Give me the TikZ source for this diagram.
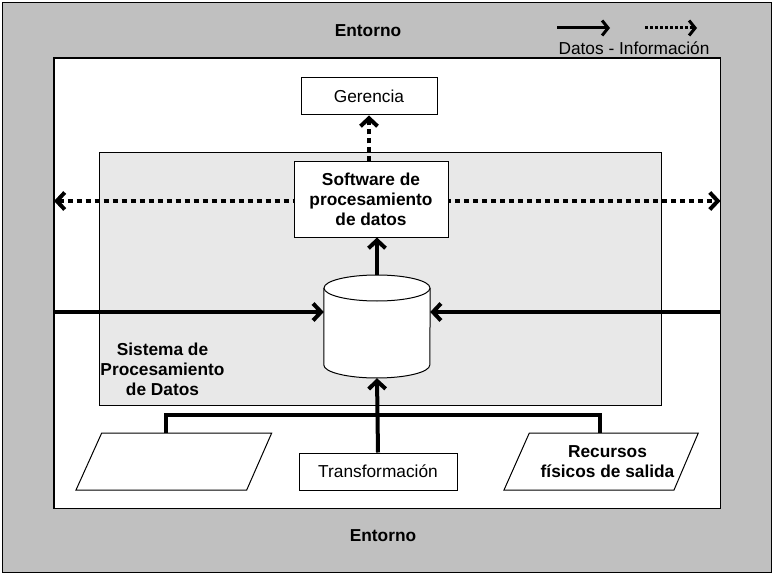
\documentclass[tikz,border=0pt]{standalone}
\usepackage{fontspec}
\setmainfont{Liberation Sans}
\usetikzlibrary{arrows.meta}
\definecolor{entorno}{HTML}{C0C0C0}
\definecolor{sistema}{HTML}{E8E8E8}
\begin{document}
\begin{tikzpicture}[x=1pt,y=-1pt,>={Straight Barb[length=8pt,width=17pt]},
    font=\fontsize{17.3}{20}\selectfont,
    caja/.style={draw,fill=white,line width=1pt,align=center,inner sep=0pt},
    negrita/.style={font=\bfseries\fontsize{17.3}{20}\selectfont,align=center},
    flujo/.style={->,line width=4pt},
    info/.style={->,line width=4pt,dash pattern=on 5pt off 4pt}]
    \useasboundingbox (0,0) rectangle (774,575);
    \draw[fill=entorno,line width=1pt] (2.5,2.5) rectangle (771.5,572.5);
    \draw[fill=white,line width=1.3pt] (54,58) rectangle (720.5,508.5);
    \draw[fill=sistema,line width=1pt] (99,153) rectangle (661,405);
    \node[negrita] (ent1) at (368,31) {Entorno};
    \node[negrita] (ent2) at (383,536) {Entorno};
    % leyenda
    \coordinate (l1) at (557,28); \coordinate (l2) at (610,28);
    \coordinate (l3) at (645,28); \coordinate (l4) at (697,28);
    \draw[->,line width=3pt,>={Straight Barb[length=6pt,width=15pt]}] (l1)--(l2);
    \draw[->,line width=3pt,dash pattern=on 3pt off 2pt,>={Straight Barb[length=6pt,width=15pt]}] (l3)--(l4);
    \node (leyenda) at (634,48) {Datos - Información};
    % flujo de informacion (detras del software)
    \coordinate (izq2) at (54,201); \coordinate (der2) at (720.5,201);
    \draw[info,<->] (izq2)--(der2);
    % nodos
    \node[caja,minimum width=136pt,minimum height=37pt] (ger) at (369,96.5) {Gerencia};
    \node[caja,negrita,minimum width=154pt,minimum height=75pt] (soft) at (371,199.5) {Software de\\procesamiento\\de datos};
    \node[minimum width=106pt,minimum height=103pt,inner sep=0pt] (bd) at (377,326.5) {};
    \draw[fill=white,line width=1pt] (bd.west |- 0,288) -- (bd.west |- 0,365)
        arc[start angle=180,end angle=0,x radius=53,y radius=13] -- (bd.east |- 0,288);
    \draw[fill=white,line width=1pt] (bd.center |- 0,288) ellipse[x radius=53,y radius=13];
    \node[negrita] (sis) at (162.5,369.5) {Sistema de\\Procesamiento\\de Datos};
    \node[caja,minimum width=158pt,minimum height=37pt] (trans) at (378,471.5) {Transformación};
    \draw[fill=white,line width=1pt] (101.7,433) -- (271.7,433) -- (246.7,490) -- (76,490) -- cycle;
    \draw[fill=white,line width=1pt] (529.3,433) -- (698.3,433) -- (674,490) -- (504,490) -- cycle;
    \node[negrita] (rec) at (607.5,461.5) {Recursos\\físicos de salida};
    \coordinate (pi) at (166,433); \coordinate (pd) at (600,433);
    \coordinate (izq) at (54,312); \coordinate (der) at (720.5,312);
    % conexiones
    \draw[flujo] (izq)--(bd.west |- izq);
    \draw[flujo] (der)--(bd.east |- der);
    \draw[flujo] (bd.north)--(bd.north |- soft.south);
    \draw[info] (soft.north -| ger.south)--(ger.south);
    \draw[line width=4pt] (pi)--(166,415)--(600,415)--(pd);
    \draw[flujo] (trans.north)--(bd.south);
\end{tikzpicture}
\end{document}
